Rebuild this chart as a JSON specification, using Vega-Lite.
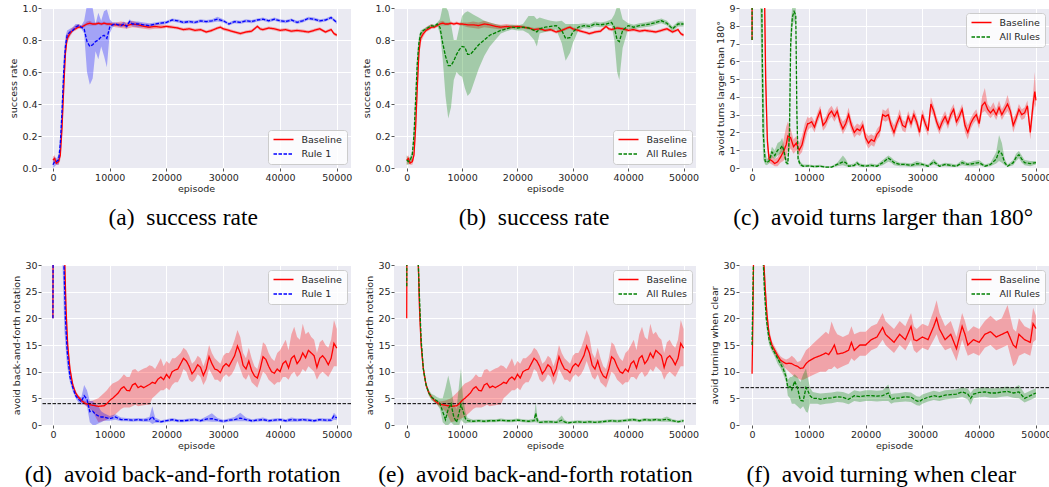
{
"$schema": "https://vega.github.io/schema/vega-lite/v6.json",
"padding": {"left": 8, "top": 3, "right": 0, "bottom": 0},
"background": "white",
"columns": 3,
"spacing": {"row": 97, "column": 43},
"bounds": "flush",
"resolve": {"scale": {"color": "independent", "strokeDash": "independent", "x": "independent", "y": "independent"}, "legend": {"color": "independent", "strokeDash": "independent"}},
"datasets": {
"srBase": [
{"x":0,"y":0.05,"l":0.02,"h":0.07},{"x":300,"y":0.06,"l":0.03,"h":0.08},{"x":600,"y":0.03,"l":0.02,"h":0.05},{"x":1000,"y":0.04,"l":0.02,"h":0.06},{"x":1300,"y":0.08,"l":0.05,"h":0.11},{"x":1600,"y":0.25,"l":0.18,"h":0.32},{"x":1900,"y":0.5,"l":0.42,"h":0.58},{"x":2200,"y":0.72,"l":0.66,"h":0.77},{"x":2500,"y":0.81,"l":0.78,"h":0.84},{"x":3000,"y":0.84,"l":0.82,"h":0.86},{"x":3500,"y":0.86,"l":0.85,"h":0.88},{"x":4000,"y":0.87,"l":0.86,"h":0.89},{"x":4500,"y":0.88,"l":0.87,"h":0.9},{"x":5000,"y":0.88,"l":0.87,"h":0.89},{"x":5500,"y":0.89,"l":0.88,"h":0.9},{"x":6000,"y":0.9,"l":0.89,"h":0.915},{"x":6500,"y":0.905,"l":0.89,"h":0.92},{"x":7000,"y":0.9,"l":0.89,"h":0.91},{"x":7500,"y":0.9,"l":0.89,"h":0.91},{"x":8000,"y":0.905,"l":0.895,"h":0.915},{"x":8500,"y":0.9,"l":0.89,"h":0.91},{"x":9000,"y":0.905,"l":0.895,"h":0.915},{"x":9500,"y":0.9,"l":0.89,"h":0.91},{"x":10000,"y":0.9,"l":0.89,"h":0.91},{"x":11000,"y":0.895,"l":0.88,"h":0.91},{"x":12000,"y":0.895,"l":0.875,"h":0.915},{"x":13000,"y":0.89,"l":0.87,"h":0.91},{"x":14000,"y":0.9,"l":0.88,"h":0.92},{"x":15000,"y":0.895,"l":0.875,"h":0.91},{"x":16000,"y":0.885,"l":0.87,"h":0.9},{"x":17000,"y":0.88,"l":0.865,"h":0.895},{"x":18000,"y":0.885,"l":0.87,"h":0.9},{"x":19000,"y":0.88,"l":0.87,"h":0.895},{"x":20000,"y":0.885,"l":0.875,"h":0.895},{"x":21000,"y":0.88,"l":0.87,"h":0.89},{"x":22000,"y":0.875,"l":0.865,"h":0.885},{"x":23000,"y":0.865,"l":0.855,"h":0.875},{"x":24000,"y":0.87,"l":0.86,"h":0.88},{"x":25000,"y":0.86,"l":0.85,"h":0.87},{"x":26000,"y":0.865,"l":0.855,"h":0.875},{"x":27000,"y":0.85,"l":0.84,"h":0.86},{"x":28000,"y":0.86,"l":0.85,"h":0.87},{"x":29000,"y":0.875,"l":0.865,"h":0.885},{"x":29500,"y":0.88,"l":0.87,"h":0.89},{"x":30000,"y":0.87,"l":0.86,"h":0.88},{"x":31000,"y":0.86,"l":0.85,"h":0.87},{"x":32000,"y":0.85,"l":0.84,"h":0.86},{"x":33000,"y":0.84,"l":0.83,"h":0.85},{"x":34000,"y":0.85,"l":0.84,"h":0.86},{"x":35000,"y":0.855,"l":0.845,"h":0.865},{"x":36000,"y":0.885,"l":0.875,"h":0.895},{"x":36500,"y":0.87,"l":0.86,"h":0.88},{"x":37000,"y":0.865,"l":0.855,"h":0.875},{"x":38000,"y":0.875,"l":0.865,"h":0.885},{"x":39000,"y":0.87,"l":0.86,"h":0.88},{"x":40000,"y":0.86,"l":0.85,"h":0.87},{"x":41000,"y":0.865,"l":0.855,"h":0.875},{"x":42000,"y":0.855,"l":0.845,"h":0.865},{"x":43000,"y":0.86,"l":0.85,"h":0.87},{"x":44000,"y":0.855,"l":0.845,"h":0.865},{"x":45000,"y":0.85,"l":0.84,"h":0.86},{"x":46000,"y":0.86,"l":0.85,"h":0.87},{"x":47000,"y":0.87,"l":0.86,"h":0.88},{"x":48000,"y":0.85,"l":0.84,"h":0.86},{"x":49000,"y":0.865,"l":0.855,"h":0.875},{"x":49500,"y":0.84,"l":0.83,"h":0.85},{"x":50000,"y":0.83,"l":0.82,"h":0.84}
],
"srRule1": [
{"x":0,"y":0.02,"l":0,"h":0.05},{"x":300,"y":0.04,"l":0.01,"h":0.07},{"x":600,"y":0.04,"l":0.02,"h":0.06},{"x":1000,"y":0.05,"l":0.02,"h":0.08},{"x":1300,"y":0.15,"l":0.08,"h":0.22},{"x":1600,"y":0.35,"l":0.25,"h":0.45},{"x":1900,"y":0.6,"l":0.5,"h":0.7},{"x":2200,"y":0.76,"l":0.7,"h":0.82},{"x":2500,"y":0.83,"l":0.79,"h":0.86},{"x":3000,"y":0.85,"l":0.83,"h":0.87},{"x":3500,"y":0.86,"l":0.85,"h":0.88},{"x":4000,"y":0.88,"l":0.87,"h":0.9},{"x":4500,"y":0.89,"l":0.88,"h":0.9},{"x":5000,"y":0.88,"l":0.87,"h":0.89},{"x":5500,"y":0.87,"l":0.84,"h":0.92},{"x":6000,"y":0.79,"l":0.6,"h":1.02},{"x":6500,"y":0.76,"l":0.52,"h":1.02},{"x":7000,"y":0.77,"l":0.56,"h":1.0},{"x":7500,"y":0.79,"l":0.73,"h":0.9},{"x":8000,"y":0.8,"l":0.68,"h":0.97},{"x":8500,"y":0.82,"l":0.76,"h":0.92},{"x":9000,"y":0.83,"l":0.7,"h":0.98},{"x":9500,"y":0.81,"l":0.63,"h":0.99},{"x":10000,"y":0.88,"l":0.84,"h":0.93},{"x":10500,"y":0.895,"l":0.88,"h":0.91},{"x":11000,"y":0.9,"l":0.89,"h":0.91},{"x":12000,"y":0.89,"l":0.88,"h":0.905},{"x":12500,"y":0.9,"l":0.885,"h":0.915},{"x":13000,"y":0.885,"l":0.87,"h":0.9},{"x":13500,"y":0.915,"l":0.9,"h":0.93},{"x":14000,"y":0.9,"l":0.885,"h":0.915},{"x":15000,"y":0.9,"l":0.88,"h":0.915},{"x":16000,"y":0.895,"l":0.88,"h":0.91},{"x":17000,"y":0.89,"l":0.875,"h":0.905},{"x":18000,"y":0.9,"l":0.89,"h":0.91},{"x":19000,"y":0.905,"l":0.895,"h":0.915},{"x":20000,"y":0.91,"l":0.9,"h":0.92},{"x":21000,"y":0.925,"l":0.915,"h":0.935},{"x":22000,"y":0.92,"l":0.91,"h":0.93},{"x":23000,"y":0.91,"l":0.9,"h":0.92},{"x":24000,"y":0.915,"l":0.905,"h":0.925},{"x":25000,"y":0.91,"l":0.9,"h":0.92},{"x":26000,"y":0.92,"l":0.91,"h":0.93},{"x":27000,"y":0.915,"l":0.905,"h":0.925},{"x":28000,"y":0.92,"l":0.91,"h":0.93},{"x":29000,"y":0.93,"l":0.915,"h":0.945},{"x":30000,"y":0.92,"l":0.91,"h":0.93},{"x":31000,"y":0.9,"l":0.89,"h":0.91},{"x":32000,"y":0.915,"l":0.905,"h":0.925},{"x":33000,"y":0.91,"l":0.9,"h":0.92},{"x":34000,"y":0.92,"l":0.91,"h":0.93},{"x":35000,"y":0.915,"l":0.905,"h":0.925},{"x":36000,"y":0.925,"l":0.915,"h":0.935},{"x":37000,"y":0.93,"l":0.92,"h":0.94},{"x":38000,"y":0.92,"l":0.91,"h":0.93},{"x":39000,"y":0.93,"l":0.92,"h":0.94},{"x":40000,"y":0.92,"l":0.91,"h":0.93},{"x":41000,"y":0.915,"l":0.905,"h":0.925},{"x":42000,"y":0.925,"l":0.915,"h":0.935},{"x":43000,"y":0.91,"l":0.9,"h":0.92},{"x":44000,"y":0.92,"l":0.91,"h":0.93},{"x":45000,"y":0.935,"l":0.925,"h":0.945},{"x":46000,"y":0.93,"l":0.92,"h":0.94},{"x":47000,"y":0.92,"l":0.91,"h":0.93},{"x":48000,"y":0.925,"l":0.915,"h":0.935},{"x":49000,"y":0.94,"l":0.93,"h":0.95},{"x":50000,"y":0.91,"l":0.9,"h":0.92}
],
"srAll": [
{"x":0,"y":0.05,"l":0.02,"h":0.08},{"x":300,"y":0.04,"l":0.02,"h":0.06},{"x":600,"y":0.05,"l":0.03,"h":0.07},{"x":1000,"y":0.08,"l":0.05,"h":0.11},{"x":1300,"y":0.2,"l":0.14,"h":0.26},{"x":1600,"y":0.42,"l":0.35,"h":0.5},{"x":1900,"y":0.65,"l":0.58,"h":0.72},{"x":2200,"y":0.78,"l":0.74,"h":0.82},{"x":2500,"y":0.84,"l":0.81,"h":0.86},{"x":3000,"y":0.86,"l":0.85,"h":0.87},{"x":3500,"y":0.87,"l":0.86,"h":0.88},{"x":4000,"y":0.88,"l":0.87,"h":0.89},{"x":4500,"y":0.89,"l":0.88,"h":0.9},{"x":5000,"y":0.885,"l":0.875,"h":0.895},{"x":5500,"y":0.9,"l":0.89,"h":0.91},{"x":6000,"y":0.88,"l":0.84,"h":0.93},{"x":6500,"y":0.78,"l":0.68,"h":1.01},{"x":7000,"y":0.7,"l":0.45,"h":1.01},{"x":7500,"y":0.64,"l":0.31,"h":0.98},{"x":8000,"y":0.64,"l":0.38,"h":0.9},{"x":8500,"y":0.67,"l":0.55,"h":0.8},{"x":9000,"y":0.71,"l":0.6,"h":0.8},{"x":9500,"y":0.74,"l":0.58,"h":0.88},{"x":10000,"y":0.76,"l":0.57,"h":0.95},{"x":10500,"y":0.755,"l":0.5,"h":0.97},{"x":11000,"y":0.71,"l":0.45,"h":0.98},{"x":11500,"y":0.71,"l":0.47,"h":0.97},{"x":12000,"y":0.73,"l":0.52,"h":0.96},{"x":13000,"y":0.77,"l":0.62,"h":0.94},{"x":14000,"y":0.8,"l":0.7,"h":0.92},{"x":15000,"y":0.83,"l":0.76,"h":0.91},{"x":16000,"y":0.845,"l":0.8,"h":0.9},{"x":17000,"y":0.86,"l":0.84,"h":0.89},{"x":18000,"y":0.87,"l":0.855,"h":0.89},{"x":19000,"y":0.88,"l":0.865,"h":0.895},{"x":20000,"y":0.875,"l":0.86,"h":0.89},{"x":21000,"y":0.88,"l":0.86,"h":0.9},{"x":22000,"y":0.875,"l":0.84,"h":0.95},{"x":23000,"y":0.86,"l":0.8,"h":0.95},{"x":23500,"y":0.85,"l":0.76,"h":0.93},{"x":24000,"y":0.87,"l":0.84,"h":0.94},{"x":25000,"y":0.88,"l":0.85,"h":0.93},{"x":26000,"y":0.885,"l":0.86,"h":0.92},{"x":27000,"y":0.89,"l":0.865,"h":0.915},{"x":28000,"y":0.86,"l":0.78,"h":0.92},{"x":28700,"y":0.81,"l":0.67,"h":0.9},{"x":29500,"y":0.815,"l":0.72,"h":0.9},{"x":30000,"y":0.85,"l":0.78,"h":0.9},{"x":31000,"y":0.88,"l":0.86,"h":0.9},{"x":32000,"y":0.89,"l":0.875,"h":0.905},{"x":33000,"y":0.885,"l":0.87,"h":0.9},{"x":34000,"y":0.9,"l":0.885,"h":0.915},{"x":35000,"y":0.895,"l":0.88,"h":0.91},{"x":36000,"y":0.9,"l":0.885,"h":0.915},{"x":37000,"y":0.91,"l":0.89,"h":0.93},{"x":37500,"y":0.88,"l":0.8,"h":0.96},{"x":38000,"y":0.8,"l":0.6,"h":1.01},{"x":38400,"y":0.79,"l":0.55,"h":1.01},{"x":39000,"y":0.86,"l":0.75,"h":0.93},{"x":40000,"y":0.89,"l":0.87,"h":0.905},{"x":41000,"y":0.88,"l":0.865,"h":0.895},{"x":42000,"y":0.89,"l":0.875,"h":0.905},{"x":43000,"y":0.895,"l":0.88,"h":0.91},{"x":44000,"y":0.9,"l":0.885,"h":0.915},{"x":45000,"y":0.91,"l":0.895,"h":0.925},{"x":46000,"y":0.92,"l":0.905,"h":0.935},{"x":47000,"y":0.905,"l":0.89,"h":0.92},{"x":48000,"y":0.87,"l":0.855,"h":0.885},{"x":49000,"y":0.9,"l":0.885,"h":0.915},{"x":50000,"y":0.9,"l":0.885,"h":0.915}
],
"tBase": [
{"x":0,"y":7.2,"l":7.0,"h":7.4},{"x":100,"y":30,"l":25,"h":35},{"x":1500,"y":25,"l":20,"h":30},{"x":2100,"y":12,"l":9,"h":15},{"x":2400,"y":5,"l":3.5,"h":6.5},{"x":2700,"y":1.5,"l":1,"h":2.2},{"x":3000,"y":0.5,"l":0.3,"h":0.8},{"x":3500,"y":0.4,"l":0.2,"h":0.7},{"x":4000,"y":0.25,"l":0.1,"h":0.5},{"x":4500,"y":0.35,"l":0.1,"h":0.6},{"x":5000,"y":0.6,"l":0.3,"h":1.0},{"x":5500,"y":0.9,"l":0.4,"h":1.5},{"x":6000,"y":1.3,"l":0.6,"h":2.3},{"x":6300,"y":1.8,"l":1.0,"h":2.6},{"x":6800,"y":1.7,"l":1.1,"h":2.2},{"x":7300,"y":1.2,"l":0.8,"h":1.6},{"x":7800,"y":1.4,"l":1.0,"h":1.8},{"x":8300,"y":1.0,"l":0.7,"h":1.4},{"x":8800,"y":1.3,"l":0.9,"h":1.8},{"x":9300,"y":2.0,"l":1.5,"h":2.5},{"x":9800,"y":2.5,"l":2.1,"h":2.9},{"x":10000,"y":2.5,"l":2.2,"h":2.8},{"x":10500,"y":2.6,"l":2.3,"h":2.9},{"x":11000,"y":2.3,"l":2.0,"h":2.6},{"x":11500,"y":2.8,"l":2.5,"h":3.1},{"x":12000,"y":3.2,"l":2.9,"h":3.5},{"x":12500,"y":2.4,"l":2.1,"h":2.7},{"x":13000,"y":2.6,"l":2.3,"h":2.9},{"x":13500,"y":3.0,"l":2.7,"h":3.3},{"x":14000,"y":3.2,"l":2.9,"h":3.5},{"x":14500,"y":2.9,"l":2.6,"h":3.2},{"x":15000,"y":3.2,"l":2.9,"h":3.5},{"x":15500,"y":2.6,"l":2.3,"h":2.9},{"x":16000,"y":2.2,"l":1.9,"h":2.6},{"x":16500,"y":2.5,"l":2.2,"h":2.8},{"x":17000,"y":3.0,"l":2.6,"h":3.4},{"x":17500,"y":2.4,"l":2.1,"h":2.7},{"x":18000,"y":2.0,"l":1.7,"h":2.3},{"x":18500,"y":2.2,"l":1.9,"h":2.5},{"x":19000,"y":2.1,"l":1.8,"h":2.4},{"x":19500,"y":2.4,"l":2.1,"h":2.7},{"x":20000,"y":1.7,"l":1.4,"h":2.0},{"x":20500,"y":1.4,"l":1.1,"h":1.8},{"x":21000,"y":1.6,"l":1.3,"h":1.9},{"x":21500,"y":1.5,"l":1.2,"h":1.8},{"x":22000,"y":1.9,"l":1.6,"h":2.2},{"x":22500,"y":2.1,"l":1.8,"h":2.4},{"x":23000,"y":3.0,"l":2.7,"h":3.3},{"x":23500,"y":2.9,"l":2.6,"h":3.2},{"x":24000,"y":3.0,"l":2.7,"h":3.4},{"x":24500,"y":2.4,"l":2.1,"h":2.7},{"x":25000,"y":2.0,"l":1.7,"h":2.4},{"x":25500,"y":2.5,"l":2.2,"h":2.8},{"x":26000,"y":2.9,"l":2.6,"h":3.3},{"x":26500,"y":2.4,"l":2.1,"h":2.7},{"x":27000,"y":2.3,"l":2.0,"h":2.6},{"x":27500,"y":2.9,"l":2.6,"h":3.2},{"x":28000,"y":2.5,"l":2.2,"h":2.8},{"x":28500,"y":3.0,"l":2.7,"h":3.3},{"x":29000,"y":2.6,"l":2.3,"h":2.9},{"x":29500,"y":2.0,"l":1.7,"h":2.3},{"x":30000,"y":3.0,"l":2.7,"h":3.3},{"x":30500,"y":2.5,"l":2.2,"h":2.8},{"x":31000,"y":2.1,"l":1.8,"h":2.4},{"x":31500,"y":3.6,"l":3.2,"h":4.0},{"x":32000,"y":3.2,"l":2.9,"h":3.5},{"x":32500,"y":2.6,"l":2.3,"h":2.9},{"x":33000,"y":2.2,"l":1.9,"h":2.5},{"x":33500,"y":2.6,"l":2.3,"h":2.9},{"x":34000,"y":2.9,"l":2.6,"h":3.2},{"x":34500,"y":2.5,"l":2.2,"h":2.8},{"x":35000,"y":3.0,"l":2.7,"h":3.3},{"x":35500,"y":3.3,"l":3.0,"h":3.6},{"x":36000,"y":2.6,"l":2.3,"h":2.9},{"x":36500,"y":2.9,"l":2.6,"h":3.2},{"x":37000,"y":3.3,"l":3.0,"h":3.6},{"x":37500,"y":2.4,"l":2.0,"h":2.8},{"x":38000,"y":2.0,"l":1.6,"h":2.4},{"x":38500,"y":2.5,"l":2.2,"h":2.8},{"x":39000,"y":2.8,"l":2.5,"h":3.1},{"x":39500,"y":3.0,"l":2.7,"h":3.3},{"x":40000,"y":2.5,"l":2.2,"h":2.8},{"x":40500,"y":3.5,"l":3.1,"h":4.0},{"x":41000,"y":3.7,"l":3.2,"h":4.5},{"x":41500,"y":3.3,"l":3.0,"h":3.6},{"x":42000,"y":3.1,"l":2.8,"h":3.4},{"x":42500,"y":3.3,"l":3.0,"h":3.7},{"x":43000,"y":3.0,"l":2.7,"h":3.3},{"x":43500,"y":3.4,"l":3.1,"h":3.8},{"x":44000,"y":3.0,"l":2.7,"h":3.3},{"x":44500,"y":3.3,"l":3.0,"h":3.6},{"x":45000,"y":3.6,"l":3.2,"h":4.1},{"x":45500,"y":3.2,"l":2.9,"h":3.5},{"x":46000,"y":2.4,"l":2.0,"h":2.8},{"x":46500,"y":2.8,"l":2.5,"h":3.1},{"x":47000,"y":3.3,"l":3.0,"h":3.6},{"x":47500,"y":3.0,"l":2.7,"h":3.3},{"x":48000,"y":3.1,"l":2.8,"h":3.4},{"x":48500,"y":3.5,"l":3.2,"h":3.8},{"x":49000,"y":2.0,"l":1.6,"h":2.4},{"x":49500,"y":3.6,"l":3.0,"h":4.2},{"x":49800,"y":4.3,"l":3.6,"h":5.4},{"x":50000,"y":3.8,"l":3.4,"h":4.2}
],
"tAll": [
{"x":0,"y":7.2,"l":7.0,"h":7.4},{"x":100,"y":30,"l":25,"h":35},{"x":1300,"y":25,"l":12,"h":35},{"x":1700,"y":9.5,"l":4,"h":14},{"x":1950,"y":2.0,"l":0.5,"h":6},{"x":2300,"y":0.4,"l":0.2,"h":1.0},{"x":2600,"y":0.3,"l":0.15,"h":0.5},{"x":3000,"y":0.4,"l":0.25,"h":0.6},{"x":3500,"y":0.9,"l":0.6,"h":1.2},{"x":4000,"y":0.7,"l":0.5,"h":1.0},{"x":4500,"y":1.0,"l":0.7,"h":1.4},{"x":5000,"y":1.1,"l":0.8,"h":1.5},{"x":5300,"y":1.25,"l":0.9,"h":1.7},{"x":5600,"y":1.0,"l":0.7,"h":1.3},{"x":6000,"y":0.3,"l":0.2,"h":0.6},{"x":6300,"y":0.25,"l":0.15,"h":0.5},{"x":6600,"y":2.0,"l":1.0,"h":4.0},{"x":6800,"y":7.0,"l":6.0,"h":8.0},{"x":7100,"y":8.5,"l":8.0,"h":9.2},{"x":7400,"y":8.8,"l":8.3,"h":9.3},{"x":7700,"y":8.6,"l":8.0,"h":9.1},{"x":7900,"y":3.0,"l":2.0,"h":4.0},{"x":8100,"y":0.5,"l":0.3,"h":0.8},{"x":8500,"y":0.2,"l":0.1,"h":0.35},{"x":9000,"y":0.1,"l":0.05,"h":0.2},{"x":10000,"y":0.12,"l":0.05,"h":0.2},{"x":11000,"y":0.08,"l":0.03,"h":0.15},{"x":12000,"y":0.1,"l":0.05,"h":0.18},{"x":13000,"y":0.05,"l":0.02,"h":0.1},{"x":14000,"y":0.05,"l":0.02,"h":0.1},{"x":15000,"y":0.2,"l":0.1,"h":0.3},{"x":16000,"y":0.35,"l":0.15,"h":0.7},{"x":16500,"y":0.3,"l":0.1,"h":0.5},{"x":17000,"y":0.1,"l":0.05,"h":0.2},{"x":18000,"y":0.15,"l":0.05,"h":0.25},{"x":18500,"y":0.28,"l":0.15,"h":0.4},{"x":19000,"y":0.15,"l":0.05,"h":0.25},{"x":20000,"y":0.1,"l":0.05,"h":0.2},{"x":21000,"y":0.15,"l":0.05,"h":0.25},{"x":22000,"y":0.1,"l":0.05,"h":0.2},{"x":23000,"y":0.3,"l":0.15,"h":0.45},{"x":24000,"y":0.55,"l":0.35,"h":0.7},{"x":24500,"y":0.45,"l":0.3,"h":0.6},{"x":25000,"y":0.3,"l":0.15,"h":0.45},{"x":26000,"y":0.2,"l":0.1,"h":0.3},{"x":27000,"y":0.2,"l":0.1,"h":0.3},{"x":28000,"y":0.15,"l":0.05,"h":0.25},{"x":29000,"y":0.25,"l":0.1,"h":0.4},{"x":30000,"y":0.2,"l":0.1,"h":0.3},{"x":31000,"y":0.1,"l":0.05,"h":0.2},{"x":32000,"y":0.35,"l":0.2,"h":0.5},{"x":33000,"y":0.1,"l":0.05,"h":0.2},{"x":34000,"y":0.2,"l":0.1,"h":0.3},{"x":35000,"y":0.15,"l":0.05,"h":0.25},{"x":36000,"y":0.1,"l":0.05,"h":0.2},{"x":37000,"y":0.3,"l":0.15,"h":0.45},{"x":38000,"y":0.2,"l":0.1,"h":0.3},{"x":39000,"y":0.25,"l":0.1,"h":0.4},{"x":40000,"y":0.3,"l":0.15,"h":0.45},{"x":41000,"y":0.1,"l":0.05,"h":0.2},{"x":42000,"y":0.2,"l":0.1,"h":0.3},{"x":43000,"y":0.5,"l":0.25,"h":0.9},{"x":43500,"y":0.95,"l":0.4,"h":1.85},{"x":44000,"y":0.8,"l":0.3,"h":1.4},{"x":44500,"y":0.3,"l":0.15,"h":0.5},{"x":45000,"y":0.1,"l":0.05,"h":0.2},{"x":46000,"y":0.3,"l":0.15,"h":0.45},{"x":46500,"y":0.6,"l":0.4,"h":0.8},{"x":47000,"y":0.75,"l":0.55,"h":0.95},{"x":47500,"y":0.5,"l":0.3,"h":0.7},{"x":48000,"y":0.3,"l":0.15,"h":0.45},{"x":49000,"y":0.25,"l":0.1,"h":0.4},{"x":50000,"y":0.3,"l":0.2,"h":0.4}
],
"bBase": [
{"x":0,"y":20,"l":19,"h":21},{"x":100,"y":60,"l":50,"h":70},{"x":1800,"y":45,"l":38,"h":55},{"x":2100,"y":30,"l":26,"h":34},{"x":2300,"y":22,"l":19,"h":25},{"x":2600,"y":15,"l":13.5,"h":16.5},{"x":3000,"y":10.5,"l":9.5,"h":11.5},{"x":3500,"y":7.5,"l":7,"h":8},{"x":4000,"y":6,"l":5.6,"h":6.4},{"x":4500,"y":5.2,"l":4.8,"h":5.6},{"x":5000,"y":4.6,"l":4.2,"h":5.0},{"x":5500,"y":4.2,"l":3.8,"h":4.6},{"x":6000,"y":3.9,"l":3.4,"h":4.4},{"x":7000,"y":3.7,"l":2.6,"h":4.6},{"x":8000,"y":3.5,"l":0.5,"h":5.0},{"x":9000,"y":3.6,"l":0.8,"h":6.0},{"x":9500,"y":4.0,"l":1.0,"h":6.5},{"x":10000,"y":4.6,"l":1.3,"h":7.2},{"x":10500,"y":5.0,"l":1.5,"h":7.8},{"x":11000,"y":5.5,"l":2.0,"h":8.0},{"x":11500,"y":6.0,"l":2.5,"h":8.3},{"x":12000,"y":6.8,"l":3.0,"h":8.8},{"x":12500,"y":7.2,"l":3.3,"h":9.5},{"x":13000,"y":6.5,"l":3.3,"h":9.0},{"x":13500,"y":6.4,"l":3.3,"h":9.0},{"x":14000,"y":7.5,"l":3.5,"h":10.3},{"x":14500,"y":7.8,"l":3.8,"h":10.5},{"x":15000,"y":7.0,"l":3.5,"h":10.0},{"x":15500,"y":7.3,"l":3.6,"h":10.3},{"x":16000,"y":7.0,"l":3.7,"h":10.6},{"x":16500,"y":7.3,"l":3.8,"h":10.8},{"x":17000,"y":7.6,"l":3.8,"h":11.2},{"x":17500,"y":8.0,"l":5.0,"h":11.0},{"x":18000,"y":7.8,"l":5.5,"h":10.5},{"x":18500,"y":8.6,"l":6.0,"h":11.5},{"x":19000,"y":9.0,"l":6.5,"h":12.5},{"x":19500,"y":8.5,"l":6.5,"h":11.0},{"x":20000,"y":9.5,"l":7.0,"h":12.0},{"x":20500,"y":8.8,"l":6.5,"h":11.5},{"x":21000,"y":10.0,"l":7.5,"h":12.5},{"x":21500,"y":10.3,"l":8.0,"h":12.5},{"x":22000,"y":10.5,"l":8.0,"h":13.0},{"x":22500,"y":11.5,"l":9.0,"h":13.5},{"x":23000,"y":12.5,"l":10.5,"h":14.5},{"x":23500,"y":12.0,"l":10.0,"h":14.0},{"x":24000,"y":11.0,"l":8.5,"h":13.0},{"x":24500,"y":9.6,"l":8.0,"h":11.5},{"x":25000,"y":10.3,"l":8.5,"h":12.0},{"x":25500,"y":11.3,"l":9.5,"h":13.0},{"x":26000,"y":10.8,"l":9.0,"h":12.5},{"x":26500,"y":9.3,"l":7.5,"h":11.0},{"x":27000,"y":10.5,"l":8.5,"h":12.5},{"x":27500,"y":12.8,"l":10.5,"h":15.0},{"x":28000,"y":11.5,"l":9.5,"h":13.5},{"x":28500,"y":10.5,"l":8.5,"h":12.5},{"x":29000,"y":10.3,"l":8.5,"h":12.0},{"x":29500,"y":9.8,"l":8.0,"h":11.5},{"x":30000,"y":11.0,"l":9.0,"h":13.0},{"x":30500,"y":11.5,"l":9.5,"h":13.5},{"x":31000,"y":11.0,"l":9.0,"h":13.5},{"x":31500,"y":12.0,"l":9.5,"h":14.5},{"x":32000,"y":13.0,"l":10.5,"h":16.0},{"x":32500,"y":14.8,"l":12.0,"h":17.8},{"x":33000,"y":13.5,"l":10.5,"h":16.5},{"x":33500,"y":11.2,"l":9.0,"h":13.5},{"x":34000,"y":10.5,"l":8.5,"h":12.5},{"x":34500,"y":12.0,"l":9.5,"h":14.5},{"x":35000,"y":10.2,"l":8.0,"h":12.5},{"x":35500,"y":9.2,"l":7.5,"h":11.0},{"x":36000,"y":8.8,"l":7.0,"h":10.5},{"x":36500,"y":10.5,"l":8.5,"h":12.5},{"x":37000,"y":12.8,"l":10.0,"h":15.5},{"x":37500,"y":12.3,"l":9.5,"h":15.0},{"x":38000,"y":11.0,"l":8.5,"h":13.5},{"x":38500,"y":10.0,"l":8.0,"h":12.5},{"x":39000,"y":9.7,"l":7.5,"h":12.0},{"x":39500,"y":10.5,"l":8.0,"h":13.5},{"x":40000,"y":10.0,"l":8.0,"h":14.0},{"x":40500,"y":11.5,"l":9.0,"h":15.0},{"x":41000,"y":12.0,"l":9.0,"h":16.0},{"x":41500,"y":10.7,"l":8.5,"h":14.0},{"x":42000,"y":12.5,"l":9.5,"h":17.0},{"x":42500,"y":13.0,"l":10.0,"h":18.4},{"x":43000,"y":11.5,"l":9.0,"h":16.5},{"x":43500,"y":12.2,"l":9.5,"h":16.0},{"x":44000,"y":13.5,"l":10.5,"h":19.0},{"x":44500,"y":12.6,"l":10.0,"h":17.0},{"x":45000,"y":14.0,"l":11.0,"h":17.5},{"x":45500,"y":13.5,"l":10.5,"h":16.5},{"x":46000,"y":13.0,"l":10.0,"h":16.0},{"x":46500,"y":10.8,"l":8.5,"h":13.5},{"x":47000,"y":12.5,"l":9.5,"h":15.5},{"x":47500,"y":13.0,"l":10.0,"h":16.0},{"x":48000,"y":12.3,"l":9.5,"h":15.0},{"x":48500,"y":11.3,"l":9.0,"h":14.5},{"x":49000,"y":12.5,"l":10.0,"h":16.0},{"x":49500,"y":15.3,"l":11.0,"h":19.7},{"x":50000,"y":14.4,"l":11.0,"h":18.0}
],
"bRule1": [
{"x":0,"y":20,"l":19,"h":21},{"x":100,"y":60,"l":50,"h":70},{"x":1700,"y":40,"l":30,"h":50},{"x":2000,"y":28,"l":18,"h":34},{"x":2200,"y":20,"l":15,"h":26},{"x":2500,"y":14,"l":11,"h":17},{"x":3000,"y":9,"l":8,"h":10.5},{"x":3500,"y":7,"l":6.3,"h":7.8},{"x":4000,"y":5.5,"l":5.0,"h":6.2},{"x":4500,"y":4.8,"l":4.2,"h":5.4},{"x":5000,"y":4.4,"l":3.8,"h":5.2},{"x":5500,"y":5.5,"l":4.0,"h":7.5},{"x":6000,"y":4.8,"l":3.5,"h":6.5},{"x":6500,"y":2.5,"l":0.5,"h":4.5},{"x":7000,"y":2.6,"l":0,"h":4.5},{"x":7500,"y":2.0,"l":0,"h":4.0},{"x":8000,"y":1.7,"l":0.3,"h":3.5},{"x":8500,"y":1.5,"l":0.5,"h":2.6},{"x":9000,"y":1.5,"l":0.8,"h":2.2},{"x":10000,"y":1.2,"l":0.8,"h":1.7},{"x":11000,"y":1.5,"l":1.0,"h":2.0},{"x":12000,"y":1.0,"l":0.7,"h":1.4},{"x":13000,"y":1.0,"l":0.7,"h":1.3},{"x":14000,"y":0.9,"l":0.6,"h":1.2},{"x":15000,"y":1.0,"l":0.7,"h":1.3},{"x":16000,"y":0.9,"l":0.6,"h":1.2},{"x":17000,"y":1.0,"l":0.6,"h":1.5},{"x":17500,"y":1.6,"l":0.2,"h":3.5},{"x":18000,"y":0.8,"l":0.4,"h":1.4},{"x":19000,"y":0.6,"l":0.4,"h":0.9},{"x":20000,"y":0.8,"l":0.5,"h":1.1},{"x":21000,"y":1.0,"l":0.7,"h":1.3},{"x":22000,"y":0.8,"l":0.5,"h":1.1},{"x":23000,"y":0.8,"l":0.5,"h":1.1},{"x":24000,"y":0.9,"l":0.6,"h":1.2},{"x":25000,"y":1.0,"l":0.7,"h":1.3},{"x":26000,"y":0.8,"l":0.5,"h":1.1},{"x":27000,"y":1.1,"l":0.7,"h":1.6},{"x":28000,"y":1.2,"l":0.6,"h":2.2},{"x":29000,"y":0.9,"l":0.6,"h":1.3},{"x":30000,"y":0.7,"l":0.4,"h":1.0},{"x":31000,"y":0.9,"l":0.6,"h":1.2},{"x":32000,"y":1.0,"l":0.7,"h":1.5},{"x":33000,"y":1.3,"l":0.7,"h":2.3},{"x":34000,"y":1.0,"l":0.7,"h":1.4},{"x":35000,"y":0.8,"l":0.5,"h":1.1},{"x":36000,"y":0.9,"l":0.6,"h":1.2},{"x":37000,"y":1.0,"l":0.7,"h":1.4},{"x":38000,"y":0.8,"l":0.5,"h":1.1},{"x":39000,"y":0.9,"l":0.6,"h":1.2},{"x":40000,"y":1.0,"l":0.7,"h":1.3},{"x":41000,"y":0.8,"l":0.5,"h":1.1},{"x":42000,"y":1.0,"l":0.6,"h":1.4},{"x":43000,"y":0.9,"l":0.6,"h":1.2},{"x":44000,"y":1.0,"l":0.7,"h":1.3},{"x":45000,"y":0.9,"l":0.6,"h":1.2},{"x":46000,"y":0.8,"l":0.5,"h":1.1},{"x":47000,"y":1.0,"l":0.7,"h":1.3},{"x":48000,"y":0.9,"l":0.6,"h":1.2},{"x":49000,"y":0.9,"l":0.6,"h":1.2},{"x":49500,"y":1.7,"l":1.0,"h":2.3},{"x":50000,"y":1.3,"l":0.9,"h":1.7}
],
"bAll": [
{"x":0,"y":26,"l":25,"h":27},{"x":100,"y":60,"l":50,"h":70},{"x":1800,"y":42,"l":35,"h":50},{"x":2100,"y":30,"l":26,"h":34},{"x":2300,"y":24,"l":21,"h":27},{"x":2600,"y":16,"l":14.5,"h":17.5},{"x":3000,"y":10.5,"l":9.5,"h":11.5},{"x":3500,"y":7.5,"l":7,"h":8},{"x":4000,"y":6,"l":5.5,"h":6.5},{"x":4500,"y":5.2,"l":4.6,"h":5.8},{"x":5000,"y":4.8,"l":4.2,"h":5.6},{"x":5500,"y":4.5,"l":3.8,"h":5.2},{"x":6000,"y":4.0,"l":3.0,"h":5.0},{"x":6500,"y":2.5,"l":0.5,"h":5.0},{"x":7000,"y":1.0,"l":0,"h":7.0},{"x":7500,"y":3.0,"l":0,"h":9.3},{"x":8000,"y":4.0,"l":0.5,"h":7.0},{"x":8500,"y":1.5,"l":0,"h":4.0},{"x":9000,"y":0.5,"l":0,"h":3.0},{"x":9500,"y":2.5,"l":0,"h":8.0},{"x":9800,"y":3.8,"l":1.0,"h":10.6},{"x":10200,"y":2.5,"l":0.5,"h":5.0},{"x":10600,"y":1.2,"l":0.3,"h":2.5},{"x":11000,"y":0.8,"l":0.4,"h":1.3},{"x":12000,"y":0.7,"l":0.4,"h":1.0},{"x":13000,"y":0.8,"l":0.5,"h":1.1},{"x":14000,"y":0.7,"l":0.4,"h":1.0},{"x":15000,"y":0.8,"l":0.5,"h":1.1},{"x":16000,"y":0.8,"l":0.5,"h":1.1},{"x":17000,"y":0.9,"l":0.6,"h":1.2},{"x":18000,"y":0.8,"l":0.5,"h":1.1},{"x":19000,"y":0.8,"l":0.5,"h":1.1},{"x":20000,"y":0.9,"l":0.6,"h":1.2},{"x":21000,"y":0.8,"l":0.5,"h":1.1},{"x":22000,"y":0.7,"l":0.4,"h":1.0},{"x":23000,"y":0.8,"l":0.5,"h":1.2},{"x":23300,"y":2.2,"l":0.5,"h":4.3},{"x":23600,"y":0.8,"l":0.4,"h":1.5},{"x":24000,"y":0.5,"l":0.3,"h":0.8},{"x":25000,"y":0.6,"l":0.3,"h":0.9},{"x":26000,"y":0.6,"l":0.3,"h":0.9},{"x":27000,"y":0.5,"l":0.3,"h":0.8},{"x":28000,"y":0.9,"l":0.3,"h":1.8},{"x":28500,"y":0.6,"l":0.3,"h":1.0},{"x":29000,"y":0.4,"l":0.2,"h":0.7},{"x":30000,"y":0.5,"l":0.3,"h":0.8},{"x":31000,"y":0.6,"l":0.3,"h":0.9},{"x":32000,"y":0.5,"l":0.3,"h":0.8},{"x":33000,"y":0.6,"l":0.3,"h":0.9},{"x":34000,"y":0.5,"l":0.3,"h":0.8},{"x":35000,"y":0.6,"l":0.3,"h":0.9},{"x":36000,"y":0.7,"l":0.4,"h":1.0},{"x":37000,"y":0.8,"l":0.5,"h":1.1},{"x":38000,"y":0.7,"l":0.4,"h":1.0},{"x":39000,"y":0.8,"l":0.5,"h":1.1},{"x":40000,"y":0.9,"l":0.6,"h":1.2},{"x":41000,"y":1.0,"l":0.7,"h":1.3},{"x":42000,"y":0.8,"l":0.5,"h":1.1},{"x":43000,"y":1.0,"l":0.7,"h":1.3},{"x":44000,"y":0.9,"l":0.6,"h":1.2},{"x":45000,"y":1.0,"l":0.7,"h":1.3},{"x":46000,"y":0.9,"l":0.6,"h":1.2},{"x":47000,"y":1.1,"l":0.6,"h":1.6},{"x":48000,"y":0.8,"l":0.5,"h":1.1},{"x":49000,"y":0.6,"l":0.4,"h":0.9},{"x":50000,"y":0.8,"l":0.5,"h":1.1}
],
"cBase": [
{"x":0,"y":9.6,"l":9.4,"h":9.8},{"x":150,"y":20,"l":18,"h":22},{"x":300,"y":35,"l":30,"h":40},{"x":1800,"y":45,"l":38,"h":55},{"x":2100,"y":30,"l":27,"h":33},{"x":2300,"y":26,"l":24,"h":28},{"x":2600,"y":21,"l":19.5,"h":22.5},{"x":3000,"y":17,"l":16,"h":18},{"x":3500,"y":15,"l":14.3,"h":15.7},{"x":4000,"y":14,"l":13.3,"h":14.7},{"x":4500,"y":13,"l":12.3,"h":13.7},{"x":5000,"y":12.2,"l":11.5,"h":12.9},{"x":5500,"y":11.8,"l":11.0,"h":12.5},{"x":6000,"y":11.5,"l":10.5,"h":12.3},{"x":6500,"y":11.6,"l":10.0,"h":12.5},{"x":7000,"y":11.5,"l":9.5,"h":13.0},{"x":7500,"y":11.2,"l":9.0,"h":12.5},{"x":8000,"y":11.0,"l":8.8,"h":11.8},{"x":8500,"y":10.6,"l":8.5,"h":12.0},{"x":9000,"y":10.7,"l":8.5,"h":13.0},{"x":9500,"y":11.5,"l":8.7,"h":14.0},{"x":10000,"y":12.0,"l":9.0,"h":14.5},{"x":11000,"y":12.6,"l":9.5,"h":15.5},{"x":12000,"y":13.0,"l":10.0,"h":16.5},{"x":13000,"y":13.5,"l":10.0,"h":17.5},{"x":13500,"y":13.2,"l":10.5,"h":17.0},{"x":14000,"y":14.0,"l":10.5,"h":19.4},{"x":14500,"y":15.0,"l":11.0,"h":18.0},{"x":15000,"y":13.3,"l":10.5,"h":17.0},{"x":16000,"y":13.5,"l":11.0,"h":16.5},{"x":17000,"y":14.0,"l":11.5,"h":17.0},{"x":17500,"y":15.5,"l":12.5,"h":18.5},{"x":18000,"y":14.0,"l":12.0,"h":17.0},{"x":19000,"y":15.0,"l":13.0,"h":17.5},{"x":20000,"y":15.0,"l":13.0,"h":17.5},{"x":21000,"y":16.0,"l":14.0,"h":18.5},{"x":22000,"y":16.5,"l":14.5,"h":19.0},{"x":23000,"y":18.3,"l":16.0,"h":21.0},{"x":23500,"y":17.0,"l":15.0,"h":19.5},{"x":24000,"y":16.5,"l":14.5,"h":19.0},{"x":25000,"y":15.5,"l":13.5,"h":18.0},{"x":26000,"y":17.0,"l":15.0,"h":19.5},{"x":27000,"y":16.0,"l":14.0,"h":18.5},{"x":28000,"y":18.5,"l":16.0,"h":21.0},{"x":28500,"y":16.0,"l":14.0,"h":18.5},{"x":29000,"y":15.8,"l":13.5,"h":18.0},{"x":30000,"y":16.5,"l":14.5,"h":19.0},{"x":31000,"y":16.0,"l":14.0,"h":18.5},{"x":32000,"y":18.5,"l":16.0,"h":21.5},{"x":32500,"y":20.0,"l":17.0,"h":23.4},{"x":33000,"y":18.0,"l":15.5,"h":21.0},{"x":34000,"y":16.0,"l":14.0,"h":18.5},{"x":35000,"y":17.0,"l":14.5,"h":19.5},{"x":36000,"y":14.3,"l":12.0,"h":16.5},{"x":37000,"y":18.5,"l":16.0,"h":21.0},{"x":37500,"y":17.0,"l":14.5,"h":19.5},{"x":38000,"y":15.0,"l":13.0,"h":17.5},{"x":39000,"y":16.0,"l":13.5,"h":18.5},{"x":40000,"y":15.5,"l":13.0,"h":18.0},{"x":41000,"y":17.0,"l":14.5,"h":19.5},{"x":42000,"y":17.5,"l":15.0,"h":20.5},{"x":43000,"y":16.5,"l":14.0,"h":19.5},{"x":44000,"y":17.0,"l":14.5,"h":20.0},{"x":45000,"y":17.5,"l":15.0,"h":22.5},{"x":46000,"y":15.0,"l":11.0,"h":18.0},{"x":46500,"y":14.5,"l":11.5,"h":17.5},{"x":47000,"y":17.0,"l":13.0,"h":20.0},{"x":48000,"y":16.0,"l":13.5,"h":18.5},{"x":49000,"y":15.5,"l":13.0,"h":18.0},{"x":49500,"y":19.0,"l":15.5,"h":22.0},{"x":50000,"y":18.1,"l":16.0,"h":20.5}
],
"cAll": [
{"x":0,"y":15,"l":14,"h":16},{"x":150,"y":25,"l":23,"h":27},{"x":300,"y":35,"l":30,"h":40},{"x":1700,"y":40,"l":34,"h":48},{"x":2000,"y":30,"l":27,"h":33},{"x":2200,"y":25,"l":23,"h":27},{"x":2500,"y":20,"l":18.5,"h":21.5},{"x":3000,"y":16,"l":15,"h":17},{"x":3500,"y":14.5,"l":13.8,"h":15.2},{"x":4000,"y":13.5,"l":12.8,"h":14.2},{"x":4500,"y":12.5,"l":11.5,"h":13.3},{"x":5000,"y":11.5,"l":10.7,"h":12.3},{"x":5500,"y":10.5,"l":9.5,"h":11.5},{"x":6000,"y":9.0,"l":8.0,"h":10.0},{"x":6300,"y":7.0,"l":5.5,"h":8.5},{"x":6700,"y":7.2,"l":5.0,"h":9.0},{"x":7000,"y":6.6,"l":4.0,"h":9.0},{"x":7500,"y":8.2,"l":4.0,"h":9.5},{"x":8000,"y":7.0,"l":3.5,"h":9.0},{"x":8500,"y":4.6,"l":3.0,"h":8.0},{"x":9000,"y":4.5,"l":3.5,"h":9.5},{"x":9500,"y":7.0,"l":2.5,"h":10.6},{"x":9800,"y":6.5,"l":2.3,"h":9.0},{"x":10200,"y":5.5,"l":4.0,"h":7.0},{"x":10700,"y":5.0,"l":4.0,"h":6.2},{"x":11500,"y":5.0,"l":4.0,"h":6.0},{"x":12000,"y":4.8,"l":3.8,"h":5.9},{"x":13000,"y":5.0,"l":4.0,"h":6.0},{"x":14000,"y":5.1,"l":4.1,"h":6.1},{"x":15000,"y":5.3,"l":4.3,"h":6.3},{"x":16000,"y":5.2,"l":4.2,"h":6.2},{"x":17000,"y":4.8,"l":3.9,"h":5.8},{"x":18000,"y":5.5,"l":4.5,"h":6.5},{"x":19000,"y":5.3,"l":4.3,"h":6.3},{"x":20000,"y":5.5,"l":4.5,"h":6.5},{"x":21000,"y":5.5,"l":4.5,"h":6.5},{"x":22000,"y":5.4,"l":4.4,"h":6.4},{"x":23000,"y":5.5,"l":4.5,"h":6.5},{"x":24000,"y":6.0,"l":4.5,"h":7.6},{"x":24500,"y":4.8,"l":4.0,"h":5.8},{"x":25000,"y":5.0,"l":4.2,"h":5.9},{"x":26000,"y":5.1,"l":4.3,"h":6.0},{"x":27000,"y":5.3,"l":4.4,"h":6.2},{"x":28000,"y":5.2,"l":4.3,"h":6.1},{"x":29000,"y":4.5,"l":3.7,"h":5.4},{"x":29500,"y":4.4,"l":3.6,"h":5.3},{"x":30000,"y":4.8,"l":4.0,"h":5.7},{"x":31000,"y":5.2,"l":4.4,"h":6.1},{"x":32000,"y":5.5,"l":4.7,"h":6.4},{"x":33000,"y":5.3,"l":4.5,"h":6.2},{"x":34000,"y":5.6,"l":4.8,"h":6.5},{"x":35000,"y":5.7,"l":4.9,"h":6.6},{"x":36000,"y":5.8,"l":5.0,"h":6.7},{"x":37000,"y":6.2,"l":5.3,"h":7.1},{"x":38000,"y":5.8,"l":4.8,"h":6.8},{"x":38500,"y":5.0,"l":3.8,"h":6.0},{"x":39000,"y":5.8,"l":5.0,"h":6.7},{"x":40000,"y":6.1,"l":5.2,"h":7.0},{"x":41000,"y":6.2,"l":5.3,"h":7.1},{"x":42000,"y":6.0,"l":5.1,"h":6.9},{"x":43000,"y":6.0,"l":5.1,"h":6.9},{"x":44000,"y":6.2,"l":5.3,"h":7.1},{"x":45000,"y":6.3,"l":5.4,"h":7.2},{"x":46000,"y":6.0,"l":5.1,"h":6.9},{"x":47000,"y":6.2,"l":5.0,"h":7.5},{"x":48000,"y":5.0,"l":4.2,"h":5.9},{"x":49000,"y":5.5,"l":4.7,"h":6.4},{"x":50000,"y":6.0,"l":5.2,"h":6.9}
],
"thr4": [{"t":4}],
"thr7": [{"t":7}]
},
"concat": [
{"width":310,"height":160,"title":{"text":"(a)\u00a0 success rate","dx":3,"font":"Liberation Serif","fontSize":23.5},
"layer":[
{"data":{"name":"srBase"},"mark":{"type":"area","color":"#ff0000","opacity":0.3,"clip":true},"encoding":{"x":{"field":"x","type":"quantitative","scale":{"domain":[-2100,52500],"nice":false,"zero":false},"axis":{"title":"episode","values":[0,10000,20000,30000,40000,50000],"format":"d"}},"y":{"field":"l","type":"quantitative","scale":{"domain":[0,1],"nice":false},"axis":{"title":"success rate","values":[0,0.2,0.4,0.6,0.8,1],"format":".1f"}},"y2":{"field":"h"}}},
{"data":{"name":"srRule1"},"mark":{"type":"area","color":"#0000ff","opacity":0.3,"clip":true},"encoding":{"x":{"field":"x","type":"quantitative","scale":{"domain":[-2100,52500],"nice":false,"zero":false},"axis":{"title":"episode","values":[0,10000,20000,30000,40000,50000],"format":"d"}},"y":{"field":"l","type":"quantitative","scale":{"domain":[0,1],"nice":false},"axis":{"title":"success rate","values":[0,0.2,0.4,0.6,0.8,1],"format":".1f"}},"y2":{"field":"h"}}},
{"data":{"name":"srBase"},"mark":{"type":"line","strokeWidth":1.3,"clip":true},"encoding":{"x":{"field":"x","type":"quantitative","scale":{"domain":[-2100,52500],"nice":false,"zero":false},"axis":{"title":"episode","values":[0,10000,20000,30000,40000,50000],"format":"d"}},"y":{"field":"y","type":"quantitative","scale":{"domain":[0,1],"nice":false},"axis":{"title":"success rate","values":[0,0.2,0.4,0.6,0.8,1],"format":".1f"}},"color":{"datum":"Baseline","type":"nominal","scale":{"domain":["Baseline","Rule 1"],"range":["#ff0000","#0000ff"]},"legend":{"orient":"bottom-right","title":null}},"strokeDash":{"datum":"Baseline","type":"nominal","scale":{"domain":["Baseline","Rule 1"],"range":[[1,0],[3.5,1.5]]},"legend":{"orient":"bottom-right","title":null}}}},
{"data":{"name":"srRule1"},"mark":{"type":"line","strokeWidth":1.3,"clip":true},"encoding":{"x":{"field":"x","type":"quantitative","scale":{"domain":[-2100,52500],"nice":false,"zero":false},"axis":{"title":"episode","values":[0,10000,20000,30000,40000,50000],"format":"d"}},"y":{"field":"y","type":"quantitative","scale":{"domain":[0,1],"nice":false},"axis":{"title":"success rate","values":[0,0.2,0.4,0.6,0.8,1],"format":".1f"}},"color":{"datum":"Rule 1","type":"nominal","scale":{"domain":["Baseline","Rule 1"],"range":["#ff0000","#0000ff"]},"legend":{"orient":"bottom-right","title":null}},"strokeDash":{"datum":"Rule 1","type":"nominal","scale":{"domain":["Baseline","Rule 1"],"range":[[1,0],[3.5,1.5]]},"legend":{"orient":"bottom-right","title":null}}}}
]},
{"width":302,"height":160,"title":{"text":"(b)\u00a0 success rate","dx":4,"font":"Liberation Serif","fontSize":23.5},
"layer":[
{"data":{"name":"srBase"},"mark":{"type":"area","color":"#ff0000","opacity":0.3,"clip":true},"encoding":{"x":{"field":"x","type":"quantitative","scale":{"domain":[-2300,52250],"nice":false,"zero":false},"axis":{"title":"episode","values":[0,10000,20000,30000,40000,50000],"format":"d"}},"y":{"field":"l","type":"quantitative","scale":{"domain":[0,1],"nice":false},"axis":{"title":"success rate","values":[0,0.2,0.4,0.6,0.8,1],"format":".1f"}},"y2":{"field":"h"}}},
{"data":{"name":"srAll"},"mark":{"type":"area","color":"#008000","opacity":0.3,"clip":true},"encoding":{"x":{"field":"x","type":"quantitative","scale":{"domain":[-2300,52250],"nice":false,"zero":false},"axis":{"title":"episode","values":[0,10000,20000,30000,40000,50000],"format":"d"}},"y":{"field":"l","type":"quantitative","scale":{"domain":[0,1],"nice":false},"axis":{"title":"success rate","values":[0,0.2,0.4,0.6,0.8,1],"format":".1f"}},"y2":{"field":"h"}}},
{"data":{"name":"srBase"},"mark":{"type":"line","strokeWidth":1.3,"clip":true},"encoding":{"x":{"field":"x","type":"quantitative","scale":{"domain":[-2300,52250],"nice":false,"zero":false},"axis":{"title":"episode","values":[0,10000,20000,30000,40000,50000],"format":"d"}},"y":{"field":"y","type":"quantitative","scale":{"domain":[0,1],"nice":false},"axis":{"title":"success rate","values":[0,0.2,0.4,0.6,0.8,1],"format":".1f"}},"color":{"datum":"Baseline","type":"nominal","scale":{"domain":["Baseline","All Rules"],"range":["#ff0000","#008000"]},"legend":{"orient":"bottom-right","title":null}},"strokeDash":{"datum":"Baseline","type":"nominal","scale":{"domain":["Baseline","All Rules"],"range":[[1,0],[3.5,1.5]]},"legend":{"orient":"bottom-right","title":null}}}},
{"data":{"name":"srAll"},"mark":{"type":"line","strokeWidth":1.3,"clip":true},"encoding":{"x":{"field":"x","type":"quantitative","scale":{"domain":[-2300,52250],"nice":false,"zero":false},"axis":{"title":"episode","values":[0,10000,20000,30000,40000,50000],"format":"d"}},"y":{"field":"y","type":"quantitative","scale":{"domain":[0,1],"nice":false},"axis":{"title":"success rate","values":[0,0.2,0.4,0.6,0.8,1],"format":".1f"}},"color":{"datum":"All Rules","type":"nominal","scale":{"domain":["Baseline","All Rules"],"range":["#ff0000","#008000"]},"legend":{"orient":"bottom-right","title":null}},"strokeDash":{"datum":"All Rules","type":"nominal","scale":{"domain":["Baseline","All Rules"],"range":[[1,0],[3.5,1.5]]},"legend":{"orient":"bottom-right","title":null}}}}
]},
{"width":310,"height":160,"title":{"text":"(c)\u00a0 avoid turns larger than 180°","dx":0,"font":"Liberation Serif","fontSize":23.5},
"layer":[
{"data":{"name":"tBase"},"mark":{"type":"area","color":"#ff0000","opacity":0.3,"clip":true},"encoding":{"x":{"field":"x","type":"quantitative","scale":{"domain":[-2300,52300],"nice":false,"zero":false},"axis":{"title":"episode","values":[0,10000,20000,30000,40000,50000],"format":"d"}},"y":{"field":"l","type":"quantitative","scale":{"domain":[0,9],"nice":false},"axis":{"title":"avoid turns larger than 180°","values":[0,1,2,3,4,5,6,7,8,9],"format":"d"}},"y2":{"field":"h"}}},
{"data":{"name":"tAll"},"mark":{"type":"area","color":"#008000","opacity":0.3,"clip":true},"encoding":{"x":{"field":"x","type":"quantitative","scale":{"domain":[-2300,52300],"nice":false,"zero":false},"axis":{"title":"episode","values":[0,10000,20000,30000,40000,50000],"format":"d"}},"y":{"field":"l","type":"quantitative","scale":{"domain":[0,9],"nice":false},"axis":{"title":"avoid turns larger than 180°","values":[0,1,2,3,4,5,6,7,8,9],"format":"d"}},"y2":{"field":"h"}}},
{"data":{"name":"tBase"},"mark":{"type":"line","strokeWidth":1.3,"clip":true},"encoding":{"x":{"field":"x","type":"quantitative","scale":{"domain":[-2300,52300],"nice":false,"zero":false},"axis":{"title":"episode","values":[0,10000,20000,30000,40000,50000],"format":"d"}},"y":{"field":"y","type":"quantitative","scale":{"domain":[0,9],"nice":false},"axis":{"title":"avoid turns larger than 180°","values":[0,1,2,3,4,5,6,7,8,9],"format":"d"}},"color":{"datum":"Baseline","type":"nominal","scale":{"domain":["Baseline","All Rules"],"range":["#ff0000","#008000"]},"legend":{"orient":"top-right","title":null}},"strokeDash":{"datum":"Baseline","type":"nominal","scale":{"domain":["Baseline","All Rules"],"range":[[1,0],[3.5,1.5]]},"legend":{"orient":"top-right","title":null}}}},
{"data":{"name":"tAll"},"mark":{"type":"line","strokeWidth":1.3,"clip":true},"encoding":{"x":{"field":"x","type":"quantitative","scale":{"domain":[-2300,52300],"nice":false,"zero":false},"axis":{"title":"episode","values":[0,10000,20000,30000,40000,50000],"format":"d"}},"y":{"field":"y","type":"quantitative","scale":{"domain":[0,9],"nice":false},"axis":{"title":"avoid turns larger than 180°","values":[0,1,2,3,4,5,6,7,8,9],"format":"d"}},"color":{"datum":"All Rules","type":"nominal","scale":{"domain":["Baseline","All Rules"],"range":["#ff0000","#008000"]},"legend":{"orient":"top-right","title":null}},"strokeDash":{"datum":"All Rules","type":"nominal","scale":{"domain":["Baseline","All Rules"],"range":[[1,0],[3.5,1.5]]},"legend":{"orient":"top-right","title":null}}}}
]},
{"width":310,"height":160,"title":{"text":"(d)\u00a0 avoid back-and-forth rotation","dx":1,"font":"Liberation Serif","fontSize":23.5},
"layer":[
{"data":{"name":"bBase"},"mark":{"type":"area","color":"#ff0000","opacity":0.3,"clip":true},"encoding":{"x":{"field":"x","type":"quantitative","scale":{"domain":[-2100,52500],"nice":false,"zero":false},"axis":{"title":"episode","values":[0,10000,20000,30000,40000,50000],"format":"d"}},"y":{"field":"l","type":"quantitative","scale":{"domain":[0,30],"nice":false},"axis":{"title":"avoid back-and-forth rotation","values":[0,5,10,15,20,25,30],"format":"d"}},"y2":{"field":"h"}}},
{"data":{"name":"bRule1"},"mark":{"type":"area","color":"#0000ff","opacity":0.3,"clip":true},"encoding":{"x":{"field":"x","type":"quantitative","scale":{"domain":[-2100,52500],"nice":false,"zero":false},"axis":{"title":"episode","values":[0,10000,20000,30000,40000,50000],"format":"d"}},"y":{"field":"l","type":"quantitative","scale":{"domain":[0,30],"nice":false},"axis":{"title":"avoid back-and-forth rotation","values":[0,5,10,15,20,25,30],"format":"d"}},"y2":{"field":"h"}}},
{"data":{"name":"thr4"},"mark":{"type":"rule","color":"#000000","strokeWidth":1,"strokeDash":[3.5,1.5]},"encoding":{"y":{"field":"t","type":"quantitative","scale":{"domain":[0,30],"nice":false},"axis":{"title":"avoid back-and-forth rotation","values":[0,5,10,15,20,25,30],"format":"d"}}}},
{"data":{"name":"bBase"},"mark":{"type":"line","strokeWidth":1.3,"clip":true},"encoding":{"x":{"field":"x","type":"quantitative","scale":{"domain":[-2100,52500],"nice":false,"zero":false},"axis":{"title":"episode","values":[0,10000,20000,30000,40000,50000],"format":"d"}},"y":{"field":"y","type":"quantitative","scale":{"domain":[0,30],"nice":false},"axis":{"title":"avoid back-and-forth rotation","values":[0,5,10,15,20,25,30],"format":"d"}},"color":{"datum":"Baseline","type":"nominal","scale":{"domain":["Baseline","Rule 1"],"range":["#ff0000","#0000ff"]},"legend":{"orient":"top-right","title":null}},"strokeDash":{"datum":"Baseline","type":"nominal","scale":{"domain":["Baseline","Rule 1"],"range":[[1,0],[3.5,1.5]]},"legend":{"orient":"top-right","title":null}}}},
{"data":{"name":"bRule1"},"mark":{"type":"line","strokeWidth":1.3,"clip":true},"encoding":{"x":{"field":"x","type":"quantitative","scale":{"domain":[-2100,52500],"nice":false,"zero":false},"axis":{"title":"episode","values":[0,10000,20000,30000,40000,50000],"format":"d"}},"y":{"field":"y","type":"quantitative","scale":{"domain":[0,30],"nice":false},"axis":{"title":"avoid back-and-forth rotation","values":[0,5,10,15,20,25,30],"format":"d"}},"color":{"datum":"Rule 1","type":"nominal","scale":{"domain":["Baseline","Rule 1"],"range":["#ff0000","#0000ff"]},"legend":{"orient":"top-right","title":null}},"strokeDash":{"datum":"Rule 1","type":"nominal","scale":{"domain":["Baseline","Rule 1"],"range":[[1,0],[3.5,1.5]]},"legend":{"orient":"top-right","title":null}}}}
]},
{"width":302,"height":160,"title":{"text":"(e)\u00a0 avoid back-and-forth rotation","dx":4,"font":"Liberation Serif","fontSize":23.5},
"layer":[
{"data":{"name":"bBase"},"mark":{"type":"area","color":"#ff0000","opacity":0.3,"clip":true},"encoding":{"x":{"field":"x","type":"quantitative","scale":{"domain":[-2300,52250],"nice":false,"zero":false},"axis":{"title":"episode","values":[0,10000,20000,30000,40000,50000],"format":"d"}},"y":{"field":"l","type":"quantitative","scale":{"domain":[0,30],"nice":false},"axis":{"title":"avoid back-and-forth rotation","values":[0,5,10,15,20,25,30],"format":"d"}},"y2":{"field":"h"}}},
{"data":{"name":"bAll"},"mark":{"type":"area","color":"#008000","opacity":0.3,"clip":true},"encoding":{"x":{"field":"x","type":"quantitative","scale":{"domain":[-2300,52250],"nice":false,"zero":false},"axis":{"title":"episode","values":[0,10000,20000,30000,40000,50000],"format":"d"}},"y":{"field":"l","type":"quantitative","scale":{"domain":[0,30],"nice":false},"axis":{"title":"avoid back-and-forth rotation","values":[0,5,10,15,20,25,30],"format":"d"}},"y2":{"field":"h"}}},
{"data":{"name":"thr4"},"mark":{"type":"rule","color":"#000000","strokeWidth":1,"strokeDash":[3.5,1.5]},"encoding":{"y":{"field":"t","type":"quantitative","scale":{"domain":[0,30],"nice":false},"axis":{"title":"avoid back-and-forth rotation","values":[0,5,10,15,20,25,30],"format":"d"}}}},
{"data":{"name":"bBase"},"mark":{"type":"line","strokeWidth":1.3,"clip":true},"encoding":{"x":{"field":"x","type":"quantitative","scale":{"domain":[-2300,52250],"nice":false,"zero":false},"axis":{"title":"episode","values":[0,10000,20000,30000,40000,50000],"format":"d"}},"y":{"field":"y","type":"quantitative","scale":{"domain":[0,30],"nice":false},"axis":{"title":"avoid back-and-forth rotation","values":[0,5,10,15,20,25,30],"format":"d"}},"color":{"datum":"Baseline","type":"nominal","scale":{"domain":["Baseline","All Rules"],"range":["#ff0000","#008000"]},"legend":{"orient":"top-right","title":null}},"strokeDash":{"datum":"Baseline","type":"nominal","scale":{"domain":["Baseline","All Rules"],"range":[[1,0],[3.5,1.5]]},"legend":{"orient":"top-right","title":null}}}},
{"data":{"name":"bAll"},"mark":{"type":"line","strokeWidth":1.3,"clip":true},"encoding":{"x":{"field":"x","type":"quantitative","scale":{"domain":[-2300,52250],"nice":false,"zero":false},"axis":{"title":"episode","values":[0,10000,20000,30000,40000,50000],"format":"d"}},"y":{"field":"y","type":"quantitative","scale":{"domain":[0,30],"nice":false},"axis":{"title":"avoid back-and-forth rotation","values":[0,5,10,15,20,25,30],"format":"d"}},"color":{"datum":"All Rules","type":"nominal","scale":{"domain":["Baseline","All Rules"],"range":["#ff0000","#008000"]},"legend":{"orient":"top-right","title":null}},"strokeDash":{"datum":"All Rules","type":"nominal","scale":{"domain":["Baseline","All Rules"],"range":[[1,0],[3.5,1.5]]},"legend":{"orient":"top-right","title":null}}}}
]},
{"width":310,"height":160,"title":{"text":"(f)\u00a0 avoid turning when clear","dx":1,"font":"Liberation Serif","fontSize":23.5},
"layer":[
{"data":{"name":"cBase"},"mark":{"type":"area","color":"#ff0000","opacity":0.3,"clip":true},"encoding":{"x":{"field":"x","type":"quantitative","scale":{"domain":[-2300,52300],"nice":false,"zero":false},"axis":{"title":"episode","values":[0,10000,20000,30000,40000,50000],"format":"d"}},"y":{"field":"l","type":"quantitative","scale":{"domain":[0,30],"nice":false},"axis":{"title":"avoid turning when clear","values":[0,5,10,15,20,25,30],"format":"d"}},"y2":{"field":"h"}}},
{"data":{"name":"cAll"},"mark":{"type":"area","color":"#008000","opacity":0.3,"clip":true},"encoding":{"x":{"field":"x","type":"quantitative","scale":{"domain":[-2300,52300],"nice":false,"zero":false},"axis":{"title":"episode","values":[0,10000,20000,30000,40000,50000],"format":"d"}},"y":{"field":"l","type":"quantitative","scale":{"domain":[0,30],"nice":false},"axis":{"title":"avoid turning when clear","values":[0,5,10,15,20,25,30],"format":"d"}},"y2":{"field":"h"}}},
{"data":{"name":"thr7"},"mark":{"type":"rule","color":"#000000","strokeWidth":1,"strokeDash":[3.5,1.5]},"encoding":{"y":{"field":"t","type":"quantitative","scale":{"domain":[0,30],"nice":false},"axis":{"title":"avoid turning when clear","values":[0,5,10,15,20,25,30],"format":"d"}}}},
{"data":{"name":"cBase"},"mark":{"type":"line","strokeWidth":1.3,"clip":true},"encoding":{"x":{"field":"x","type":"quantitative","scale":{"domain":[-2300,52300],"nice":false,"zero":false},"axis":{"title":"episode","values":[0,10000,20000,30000,40000,50000],"format":"d"}},"y":{"field":"y","type":"quantitative","scale":{"domain":[0,30],"nice":false},"axis":{"title":"avoid turning when clear","values":[0,5,10,15,20,25,30],"format":"d"}},"color":{"datum":"Baseline","type":"nominal","scale":{"domain":["Baseline","All Rules"],"range":["#ff0000","#008000"]},"legend":{"orient":"top-right","title":null}},"strokeDash":{"datum":"Baseline","type":"nominal","scale":{"domain":["Baseline","All Rules"],"range":[[1,0],[3.5,1.5]]},"legend":{"orient":"top-right","title":null}}}},
{"data":{"name":"cAll"},"mark":{"type":"line","strokeWidth":1.3,"clip":true},"encoding":{"x":{"field":"x","type":"quantitative","scale":{"domain":[-2300,52300],"nice":false,"zero":false},"axis":{"title":"episode","values":[0,10000,20000,30000,40000,50000],"format":"d"}},"y":{"field":"y","type":"quantitative","scale":{"domain":[0,30],"nice":false},"axis":{"title":"avoid turning when clear","values":[0,5,10,15,20,25,30],"format":"d"}},"color":{"datum":"All Rules","type":"nominal","scale":{"domain":["Baseline","All Rules"],"range":["#ff0000","#008000"]},"legend":{"orient":"top-right","title":null}},"strokeDash":{"datum":"All Rules","type":"nominal","scale":{"domain":["Baseline","All Rules"],"range":[[1,0],[3.5,1.5]]},"legend":{"orient":"top-right","title":null}}}}
]}
],
"config": {
"view": {"fill": "#eaeaf2", "stroke": null},
"axis": {"domain": false, "grid": true, "gridColor": "#ffffff", "gridWidth": 1, "tickColor": "#555555", "tickSize": 3, "labelFont": "DejaVu Sans", "labelFontSize": 9.5, "labelColor": "#262626", "labelPadding": 1, "titleFont": "DejaVu Sans", "titleFontSize": 9.5, "titleFontWeight": "normal", "titleColor": "#262626"},
"axisX": {"titlePadding": 2, "labelFlush": false},
"axisY": {"titlePadding": 3.5},
"legend": {"fillColor": "rgba(255,255,255,0.8)", "strokeColor": "#cccccc", "cornerRadius": 3, "padding": 4.5, "offset": 4.5, "labelFont": "DejaVu Sans", "labelFontSize": 9.5, "labelColor": "#262626", "symbolStrokeWidth": 1.5, "symbolSize": 400, "rowPadding": 4.5, "labelOffset": 7, "clipHeight": 10},
"title": {"font": "Liberation Serif", "fontSize": 23.5, "fontWeight": "normal", "color": "#000000", "orient": "bottom", "anchor": "middle", "frame": "bounds", "offset": 13}
}
}
